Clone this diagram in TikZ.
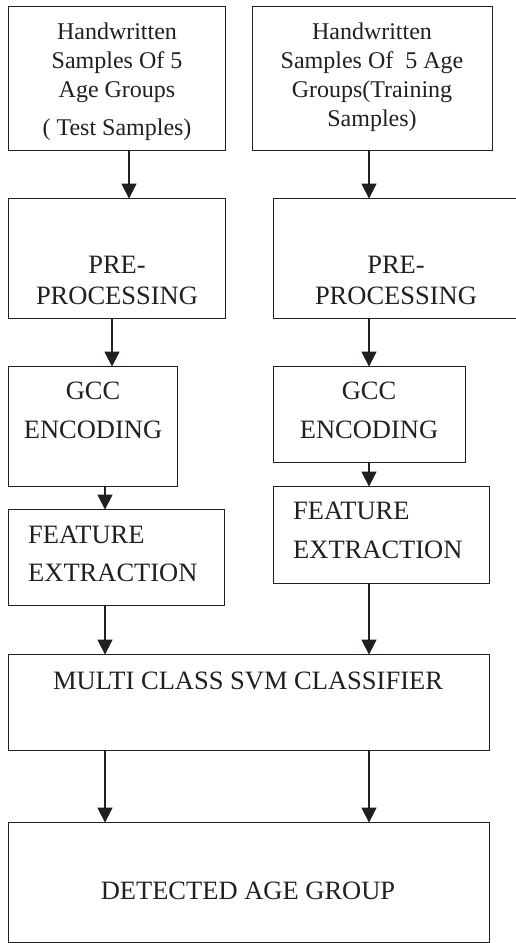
\documentclass[tikz,border=0pt]{standalone}
\usepackage{fontspec}
\setmainfont{Liberation Serif}
\usetikzlibrary{arrows.meta}
\definecolor{ink}{HTML}{231F20}
\tikzset{
  box/.style={draw=ink, line width=1.2pt, rectangle, inner sep=0pt, anchor=north west},
  arr/.style={draw=ink, line width=1.4pt, -{Triangle[width=15pt,length=15pt]}, shorten >=-0.6pt},
  small/.style={font=\fontsize{24}{29}\selectfont, text=ink, inner sep=0pt, anchor=base},
  big/.style={font=\fontsize{26.5}{31}\selectfont, text=ink, inner sep=0pt, anchor=base},
  bigl/.style={big, anchor=base west},
}
\begin{document}
\begin{tikzpicture}[x=1pt,y=-1pt]
\useasboundingbox (0,0) rectangle (515,943);
% x positions of connectors
\coordinate (xa) at (129,0);
\coordinate (xb) at (369,0);
\coordinate (xc) at (112,0);
\coordinate (xd) at (105,0);
% boxes
\node[box, minimum width=217pt, minimum height=144pt] (t1) at (8,6) {};
\node[box, minimum width=240pt, minimum height=144pt] (t2) at (252,6) {};
\node[box, minimum width=217pt, minimum height=120pt] (p1) at (8,198) {};
\node[box, minimum width=250pt, minimum height=120pt] (p2) at (273,198) {};
\node[box, minimum width=169pt, minimum height=120pt] (g1) at (8,366) {};
\node[box, minimum width=192pt, minimum height=96pt] (g2) at (273,366) {};
\node[box, minimum width=216pt, minimum height=96pt] (f1) at (8,509) {};
\node[box, minimum width=216pt, minimum height=97pt] (f2) at (273,486) {};
\node[box, minimum width=481pt, minimum height=96pt] (s) at (8,654) {};
\node[box, minimum width=481pt, minimum height=120pt] (d) at (8,822) {};
% texts
\node[small] (t1a) at (117,39) {Handwritten};
\node[small] (t1b) at (117,68) {Samples Of 5};
\node[small] (t1c) at (117,97) {Age Groups};
\node[small] (t1d) at (117,135) {( Test Samples)};
\node[small] (t2a) at (372,39) {Handwritten};
\node[small] (t2b) at (372,68) {Samples Of\ \ 5 Age};
\node[small] (t2c) at (372,97) {Groups(Training};
\node[small] (t2d) at (372,126) {Samples)};
\node[big] (p1a) at (117,273) {PRE-};
\node[big] (p1b) at (117,304) {PROCESSING};
\node[big] (p2a) at (396,273) {PRE-};
\node[big] (p2b) at (396,304) {PROCESSING};
\node[big] (g1a) at (93,399) {GCC};
\node[big] (g1b) at (93,438) {ENCODING};
\node[big] (g2a) at (369,399) {GCC};
\node[big] (g2b) at (369,438) {ENCODING};
\node[bigl] (f1a) at (28,543) {FEATURE};
\node[bigl] (f1b) at (28,581) {EXTRACTION};
\node[bigl] (f2a) at (293,519) {FEATURE};
\node[bigl] (f2b) at (293,558) {EXTRACTION};
\node[big] (sa) at (248,689) {MULTI CLASS SVM CLASSIFIER};
\node[big] (da) at (248,899) {DETECTED AGE GROUP};
% connectors
\draw[arr] (t1.south -| xa) -- (p1.north -| xa);
\draw[arr] (t2.south -| xb) -- (p2.north -| xb);
\draw[arr] (p1.south -| xc) -- (g1.north -| xc);
\draw[arr] (p2.south -| xb) -- (g2.north -| xb);
\draw[arr] (g1.south -| xd) -- (f1.north -| xd);
\draw[arr] (g2.south -| xb) -- (f2.north -| xb);
\draw[arr] (f1.south -| xd) -- (s.north -| xd);
\draw[arr] (f2.south -| xb) -- (s.north -| xb);
\draw[arr] (s.south -| xd) -- (d.north -| xd);
\draw[arr] (s.south -| xb) -- (d.north -| xb);
\end{tikzpicture}
\end{document}
